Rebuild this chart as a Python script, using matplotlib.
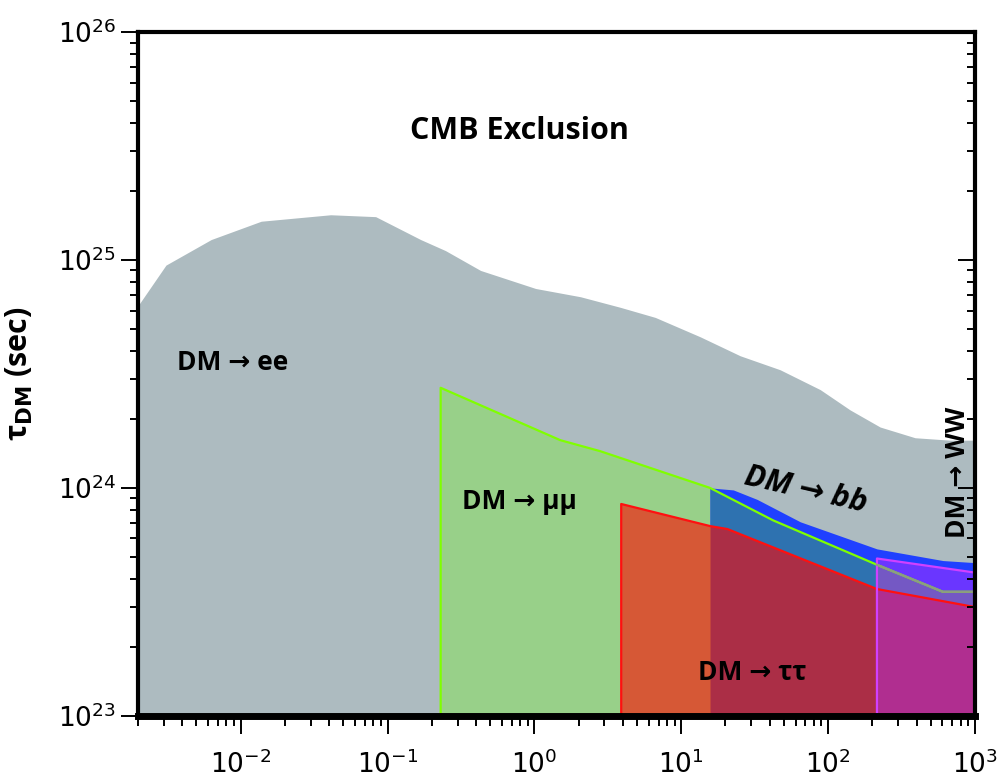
import numpy as np
import matplotlib
matplotlib.use("Agg")
import matplotlib.pyplot as plt
from matplotlib.ticker import LogLocator, NullFormatter

# DM mass (x) and lifetime bound (y)
ee_x = [2.0e-3, 3.1e-3, 6.3e-3, 1.38e-2, 4.1e-2, 8.3e-2, 0.168, 0.248, 0.43, 1.02, 2.06, 3.85, 6.65, 13.5, 25.2, 47.1, 88.3, 141, 226, 391, 676, 1000]
ee_y = [6.3e24, 9.5e24, 1.23e25, 1.48e25, 1.58e25, 1.55e25, 1.23e25, 1.10e25, 9.0e24, 7.5e24, 6.9e24, 6.2e24, 5.6e24, 4.6e24, 3.8e24, 3.3e24, 2.7e24, 2.2e24, 1.85e24, 1.66e24, 1.62e24, 1.62e24]

mumu_x = [0.23, 1.5, 2.8, 15.7, 42.3, 215, 605, 1000]
mumu_y = [2.75e24, 1.62e24, 1.45e24, 1.0e24, 7.2e23, 4.6e23, 3.5e23, 3.5e23]

tautau_x = [3.9, 15.7, 20.6, 215, 1000]
tautau_y = [8.5e23, 6.8e23, 6.6e23, 3.6e23, 3.0e23]

bb_x = [15.7, 22.6, 32.9, 64.6, 215, 605, 1000]
bb_y = [1.0e24, 9.8e23, 8.9e23, 7.1e23, 5.4e23, 4.8e23, 4.7e23]

ww_x = [215, 1000]
ww_y = [4.9e23, 4.25e23]

y_floor = 1e23

c_grey = "#adbbc0"
c_green = "#98d089"
c_blue = "#2040ff"
c_steel = "#2e72b0"
c_orange = "#d65836"
c_crimson = "#ab2e46"
c_ww_top = "#6a36ff"
c_ww_mid = "#7458c4"
c_ww_low = "#b02e90"

fig = plt.figure(figsize=(10, 7.84), dpi=100)
ax = fig.add_axes([0.138, 0.087, 0.837, 0.872])
ax.set_xscale("log")
ax.set_yscale("log")
ax.set_xlim(2.0e-3, 1000)
ax.set_ylim(1e23, 1e26)

mx = np.array(mumu_x); my = np.array(mumu_y)
tx = np.array(tautau_x); ty = np.array(tautau_y)
sel_m = mx >= bb_x[0]
sel_t = tx >= bb_x[0]
sel_mw = mx >= ww_x[0]
sel_tw = tx >= ww_x[0]

# fills, painted bottom to top
ax.fill_between(ee_x, y_floor, ee_y, color=c_grey, lw=0)
ax.fill_between(mumu_x, y_floor, mumu_y, color=c_green, lw=0)
ax.fill_between(bb_x, y_floor, bb_y, color=c_blue, lw=0)
ax.fill_between(mx[sel_m], y_floor, my[sel_m], color=c_steel, lw=0)
ax.fill_between(tautau_x, y_floor, tautau_y, color=c_orange, lw=0)
ax.fill_between(tx[sel_t], y_floor, ty[sel_t], color=c_crimson, lw=0)
ax.fill_between(ww_x, y_floor, ww_y, color=c_ww_top, lw=0)
ax.fill_between(mx[sel_mw], y_floor, my[sel_mw], color=c_ww_mid, lw=0)
ax.fill_between(tx[sel_tw], y_floor, ty[sel_tw], color=c_ww_low, lw=0)

# outlines
ax.fill_between(mumu_x, y_floor, mumu_y, facecolor="none", edgecolor="#7fff00", lw=1.6)
ax.plot(mx[sel_mw], my[sel_mw], color="#8c9c82", lw=1.6)
ax.fill_between(tautau_x, y_floor, tautau_y, facecolor="none", edgecolor="#ff1010", lw=1.6)
ax.fill_between(ww_x, y_floor, ww_y, facecolor="none", edgecolor="#d040ff", lw=1.6)

# labels
tfont = dict(family=["Open Sans", "DejaVu Sans"], fontweight="bold", color="black")
ax.text(0.79, 3.7e25, "CMB Exclusion", ha="center", va="center", fontsize=22, **tfont)
ax.text(0.0088, 3.55e24, "DM → ee", ha="center", va="center", fontsize=19, **tfont)
ax.text(0.79, 8.7e23, "DM → μμ", ha="center", va="center", fontsize=19, **tfont)
ax.text(30.4, 1.55e23, "DM → ττ", ha="center", va="center", fontsize=19, **tfont)
ax.text(70, 9.8e23, "DM → bb", ha="center", va="center", fontsize=22, rotation=-13,
        style="italic", **tfont)
ax.text(760, 1.17e24, "DM → WW", ha="center", va="center", fontsize=19, rotation=90, **tfont)

ax.set_ylabel(r"τ$_{\mathbf{DM}}$ (sec)", fontsize=22, fontweight="bold",
              family=["Open Sans", "DejaVu Sans"], labelpad=16)

# ticks
ax.xaxis.set_major_locator(LogLocator(base=10, numticks=20))
ax.xaxis.set_minor_locator(LogLocator(base=10, subs=np.arange(2, 10), numticks=20))
ax.yaxis.set_major_locator(LogLocator(base=10, numticks=20))
ax.yaxis.set_minor_locator(LogLocator(base=10, subs=np.arange(2, 10), numticks=20))
ax.xaxis.set_minor_formatter(NullFormatter())
ax.yaxis.set_minor_formatter(NullFormatter())

ax.tick_params(axis="x", which="both", direction="out", top=False, width=1.4)
ax.tick_params(axis="x", which="major", length=13, pad=12, labelsize=19)
ax.tick_params(axis="x", which="minor", length=7)
ax.tick_params(axis="y", which="both", left=True, right=True, width=1.4)
ax.tick_params(axis="y", which="major", length=12, labelsize=19, pad=4)
ax.tick_params(axis="y", which="minor", length=6)
for t in ax.yaxis.get_major_ticks() + ax.yaxis.get_minor_ticks():
    t.tick2line.set_marker(matplotlib.lines.TICKLEFT)

for s in ["left", "top", "right"]:
    ax.spines[s].set_linewidth(3)
ax.spines["bottom"].set_linewidth(5)
ax.set_axisbelow(False)

fig.savefig("out.png", dpi=100)
